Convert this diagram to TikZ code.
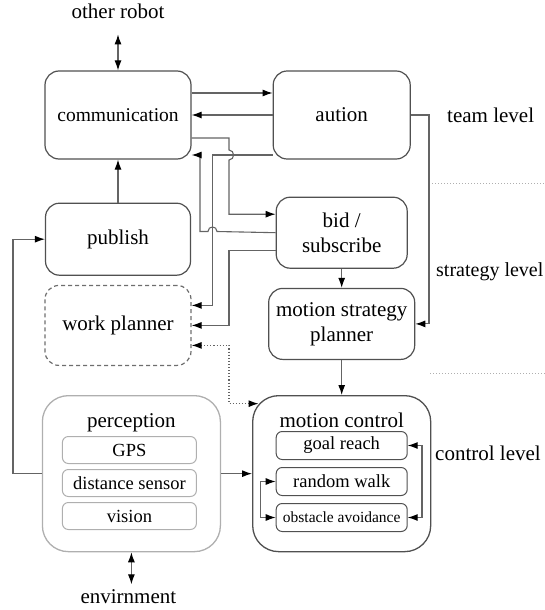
\documentclass[tikz,border=0pt]{standalone}
\usepackage{fontspec}
\setmainfont{Liberation Serif}
\usetikzlibrary{positioning,arrows.meta,calc}
\definecolor{boxrule}{RGB}{80,80,80}
\definecolor{wire}{RGB}{100,100,100}
\definecolor{palerule}{RGB}{175,175,175}
\definecolor{dashrule}{RGB}{110,110,110}
\newcommand{\mainsize}{\fontsize{21}{25}\selectfont}
\newcommand{\commsize}{\fontsize{19.5}{23}\selectfont}
\newcommand{\levelsize}{\fontsize{20}{24}\selectfont}
\newcommand{\partsize}{\fontsize{18.5}{22}\selectfont}
\newcommand{\smallpartsize}{\fontsize{15.5}{18}\selectfont}
\tikzset{
  block/.style={rectangle,rounded corners=14pt,draw=boxrule,line width=1.2pt,align=center,font=\mainsize},
  ghostblock/.style={block,draw=dashrule,dash pattern=on 4pt off 3pt},
  group/.style={rectangle,rounded corners=26pt,draw=boxrule,line width=1.3pt,minimum width=178pt,minimum height=156pt},
  part/.style={rectangle,rounded corners=6pt,draw=boxrule,line width=1pt,inner sep=0pt,font=\partsize},
  lbl/.style={inner sep=0pt,font=\mainsize},
  link/.style={-{Latex[length=10pt,width=7pt,color=black]},line width=1.1pt,draw=wire},
  twoway/.style={{Latex[length=10pt,width=7pt,color=black]}-{Latex[length=10pt,width=7pt,color=black]},line width=1.1pt,draw=wire},
  dotlink/.style={twoway,dotted},
  levelsep/.style={draw=palerule,dotted,line width=1pt}
}
\begin{document}
\begin{tikzpicture}[x=1pt,y=-1pt]
  \useasboundingbox (0,0) rectangle (545,610);
  % team part
  \node[block,minimum width=146pt,minimum height=88pt,font=\commsize] (comm) at (118,115) {communication};
  \node[block,minimum width=137pt,minimum height=88pt,right=81pt of comm] (aution) {aution};
  \node[block,minimum width=145pt,minimum height=72pt,below=43pt of comm] (publish) {publish};
  \node[ghostblock,minimum width=146pt,minimum height=80pt,below=9pt of publish] (work) {work planner};
  \node[block,minimum width=131pt,minimum height=71pt,below=37pt of aution] (bidsub) {bid /\\subscribe};
  \node[block,minimum width=146pt,minimum height=71pt,below=19pt of bidsub] (msp) {motion strategy\\planner};
  % control part
  \node[group,below=35pt of msp] (mctrl) {};
  \node[group,draw=palerule,left=31pt of mctrl] (percep) {};
  \node[lbl,below=18pt of percep.north] (perceptitle) {perception};
  \node[lbl,below=18pt of mctrl.north] (mctrltitle) {motion control};
  \node[part,draw=palerule,minimum width=134pt,minimum height=27pt,below=41pt of percep.north,xshift=-2pt] (gps) {GPS};
  \node[part,draw=palerule,minimum width=134pt,minimum height=27pt,below=5pt of gps] (dist) {distance sensor};
  \node[part,draw=palerule,minimum width=134pt,minimum height=27pt,below=5pt of dist] (vision) {vision};
  \node[part,minimum width=131pt,minimum height=28pt,below=36pt of mctrl.north] (goal) {goal reach};
  \node[part,minimum width=131pt,minimum height=28pt,below=7pt of goal] (random) {random walk};
  \node[part,minimum width=131pt,minimum height=28pt,below=7pt of random,font=\smallpartsize] (obst) {obstacle avoidance};
  % outside and levels
  \node[lbl,above=51pt of comm] (orobot) {other robot};
  \node[lbl,below=37pt of percep,xshift=-3pt] (env) {envirnment};
  \node[lbl,anchor=west] (teamlvl) at (447,115) {team level};
  \node[lbl,anchor=west,font=\levelsize] (stratlvl) at (436,272) {strategy level};
  \node[lbl,anchor=west] (ctrllvl) at (435,453) {control level};
  \draw[levelsep] (432,183) -- (545,183);
  \draw[levelsep] (430,373) -- (545,373);

  \draw[twoway,shorten >=15pt] (comm.north) -- (comm.north |- orobot.south);
  \draw[twoway,shorten >=5pt] (percep.south) -- (percep.south |- env.north);
  \draw[link] ([yshift=22pt]comm.east) -- ([yshift=22pt]aution.west);
  \draw[link] (aution.west) -- (comm.east);
  \draw[link] ([yshift=-23pt]comm.east) -| (229,150) .. controls (235,150) and (235,160) .. (229,160) |- ([yshift=18.5pt]bidsub.west);
  \draw[link] ([yshift=-40pt]aution.west) -| (212.5,250) |- ([yshift=20pt]work.east);
  \draw[link] (bidsub.west) -- (217,231.5) .. controls (217,225.5) and (208,225.5) .. (208,231.5) -| (200,190) |- ([yshift=-40pt]comm.east);
  \draw[link] ([yshift=-17.5pt]bidsub.west) -| (229,290) |- (work.east);
  \draw[dotlink] ([yshift=-20pt]work.east) -| (229,380) |- ([xshift=6.5pt,yshift=70pt]mctrl.west);
  \draw[link] (aution.east) -| (429,220) |- (msp.east);
  \draw[link] (publish) -- (comm);
  \draw[link] (bidsub) -- (msp);
  \draw[link] (msp) -- (mctrl);
  \draw[link] (percep.west) -| (13,350) |- (publish.west);
  \draw[link] (percep) -- (mctrl);
  \draw[twoway] (goal.east) -| (422,480) |- (obst.east);
  \draw[twoway] (random.west) -| (260.5,495) |- (obst.west);
\end{tikzpicture}
\end{document}
